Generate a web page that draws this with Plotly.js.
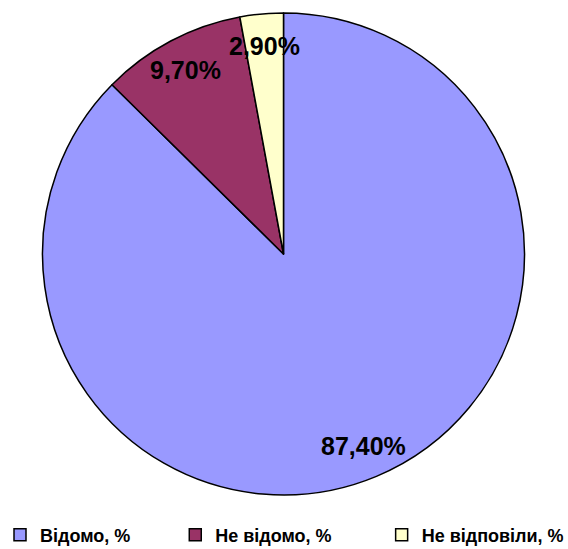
<!DOCTYPE html>
<html>
<head>
<meta charset="utf-8">
<script src="https://cdn.plot.ly/plotly-3.0.1.min.js"></script>
<style>html,body{margin:0;padding:0;background:#fff;}#chart{width:568px;height:549px;}</style>
</head>
<body>
<div id="chart"></div>
<script>
// Share of answers, in percent
const categories = ['Відомо, %', 'Не відомо, %', 'Не відповіли, %'];
const shares = [87.4, 9.7, 2.9];
const sliceColors = ['#9999FF', '#993366', '#FFFFCC'];

// Pie geometry in paper fractions
const W = 568, H = 549;
const cx = 283.5, cy = 254, R = 241;
const dom = {
  x: [(cx - R) / W, (cx + R) / W],
  y: [1 - (cy + R) / H, 1 - (cy - R) / H]
};

// Value labels sit along each slice's middle angle, near the rim
const total = shares.reduce((a, b) => a + b, 0);
let start = 0;
const labels = shares.map((v) => {
  const mid = (start + v / 2) / total * 2 * Math.PI;
  start += v;
  const r = 0.865 * R;
  const px = cx + r * Math.sin(mid);
  const py = cy - r * Math.cos(mid);
  return {
    x: px / W, y: 1 - py / H, xref: 'paper', yref: 'paper',
    text: v.toFixed(2).replace('.', ',') + '%',
    showarrow: false, xanchor: 'center', yanchor: 'middle',
    font: {family: 'Liberation Sans, Arial, sans-serif', size: 25, color: '#000', weight: 'bold'}
  };
});

// Extra room after each legend entry except the last one
const gapAfter = [8, 9, 0];
const legendNames = categories.map((c, i) => c + '\u00A0'.repeat(gapAfter[i]));

const trace = {
  type: 'pie',
  labels: legendNames,
  values: shares,
  sort: false,
  direction: 'clockwise',
  rotation: 0,
  textinfo: 'none',
  hoverinfo: 'label+percent',
  marker: {colors: sliceColors, line: {color: '#000', width: 1.5}},
  domain: dom
};

const layout = {
  width: W, height: H,
  margin: {l: 0, r: 0, t: 0, b: 0, autoexpand: false},
  paper_bgcolor: '#fff',
  showlegend: true,
  legend: {
    orientation: 'h', x: 0, y: 1 - 535 / H, xanchor: 'left', yanchor: 'middle',
    font: {family: 'Liberation Sans, Arial, sans-serif', size: 18, color: '#000', weight: 'bold'},
    itemwidth: 30, traceorder: 'normal'
  },
  annotations: labels
};

Plotly.newPlot('chart', [trace], layout, {displayModeBar: false, staticPlot: true});
</script>
</body>
</html>
